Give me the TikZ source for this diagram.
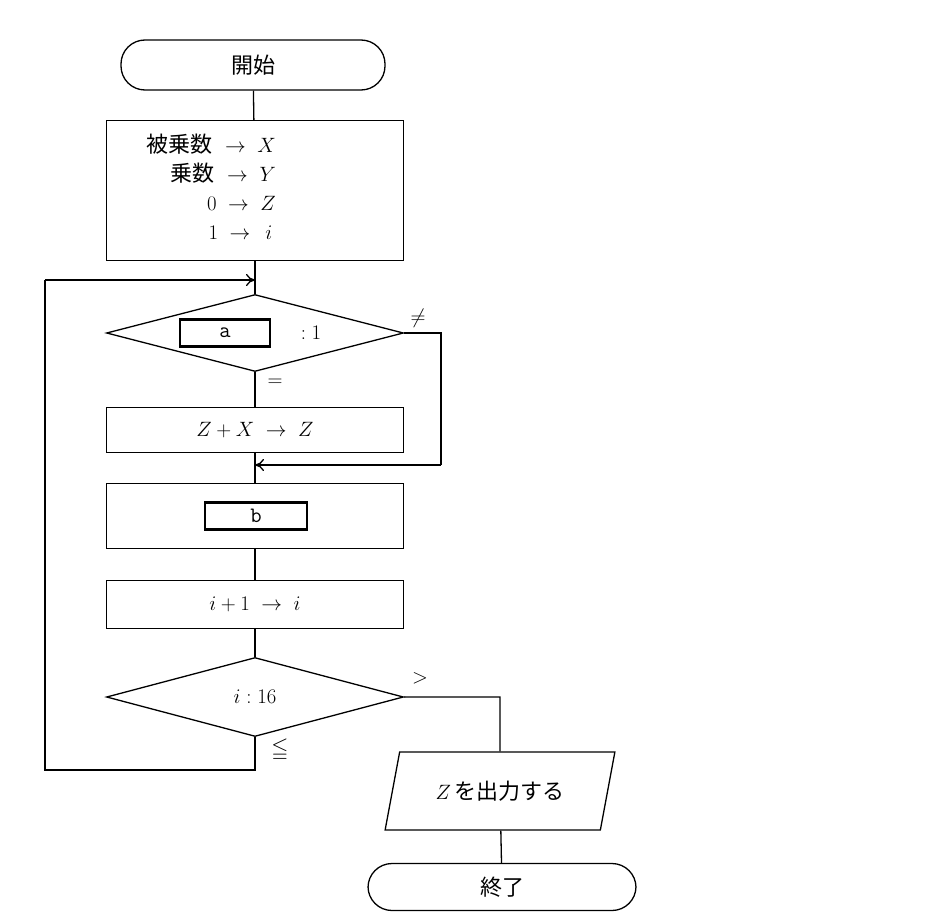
\documentclass[tikz,border=0pt]{standalone}
\usepackage{amssymb}
\usepackage{fontspec}
\usetikzlibrary{shapes.geometric,arrows.meta}
\newfontfamily\jp{Noto Sans CJK JP}
\begin{document}
\begin{tikzpicture}[x=1pt,y=-1pt,line width=1.3pt,
  every node/.style={font=\fontsize{22}{30}\selectfont},
  box/.style={draw,minimum width=297pt,anchor=north},
  term/.style={draw,rounded corners=24pt},
  dia/.style={draw,diamond,aspect=3.8,inner sep=0pt},
  slot/.style={draw,line width=2.6pt,inner sep=0pt,font=\fontsize{22}{26}\ttfamily},
  arr/.style={-{To[length=9pt,width=12pt]}}]
\useasboundingbox (0,0) rectangle (950,920);
\node[term,minimum width=264pt,minimum height=50pt] (start) at (253,65) {\jp 開始};
\node[box,minimum height=140pt] (init) at (255,120) {};
\node[anchor=west,inner sep=0pt] (initt) at (146,190) {\begin{tabular}{@{}r@{}}{\jp 被乗数} $\;\rightarrow\; X$\\[-1pt]{\jp 乗数} $\;\rightarrow\; Y$\\[-1pt]$0\;\rightarrow\; Z$\\[-1pt]$1\;\rightarrow\;\, i\,$\end{tabular}};
\coordinate (join1) at (255,280);
\node[dia,minimum width=297pt,minimum height=77pt] (d1) at (255,333) {};
\node[slot,minimum width=90pt,minimum height=27pt] (sa) at (225,333) {a};
\node (c1) at (311,333) {$:1$};
\node (ne) at (418,318) {$\neq$};
\node (eq) at (275,383) {$=$};
\node[box,minimum height=45pt] (zx) at (255,407) {$Z+X\;\rightarrow\; Z$};
\coordinate (join2) at (255,465);
\coordinate (r1) at (441,333);
\coordinate (r2) at (441,465);
\node[box,minimum height=65pt] (bb) at (255,483) {};
\node[slot,minimum width=102pt,minimum height=27pt] (sb) at (256,516) {b};
\node[box,minimum height=48pt] (inc) at (255,580) {$i+1\;\rightarrow\; i$};
\node[dia,minimum width=297pt,minimum height=79pt] (d2) at (255,697) {$i:16$};
\node (gt) at (420,678) {$>$};
\node (le) at (280,750) {$\leqq$};
\node[draw,trapezium,trapezium left angle=70,trapezium right angle=110,minimum width=230pt,minimum height=78pt,trapezium stretches=true] (out) at (500,791) {$Z\,${\jp を出力する}};
\node[term,minimum width=268pt,minimum height=47pt] (end) at (502,887) {\jp 終了};
\coordinate (l1) at (255,770);
\coordinate (l2) at (45,770);
\coordinate (l3) at (45,280);
\coordinate (o1) at (500,697);
\draw (start) -- (init);
\draw (init) -- (d1.north);
\draw (d1.south) -- (zx);
\draw (zx) -- (bb);
\draw (bb) -- (inc);
\draw (inc) -- (d2.north);
\draw (d1.east) -- (r1) -- (r2);
\draw[arr] (r2) -- (join2);
\draw (d2.south) -- (l1) -- (l2) -- (l3);
\draw[arr] (l3) -- (join1);
\draw (d2.east) -- (o1) -- (out.north);
\draw (out) -- (end);
\end{tikzpicture}
\end{document}
